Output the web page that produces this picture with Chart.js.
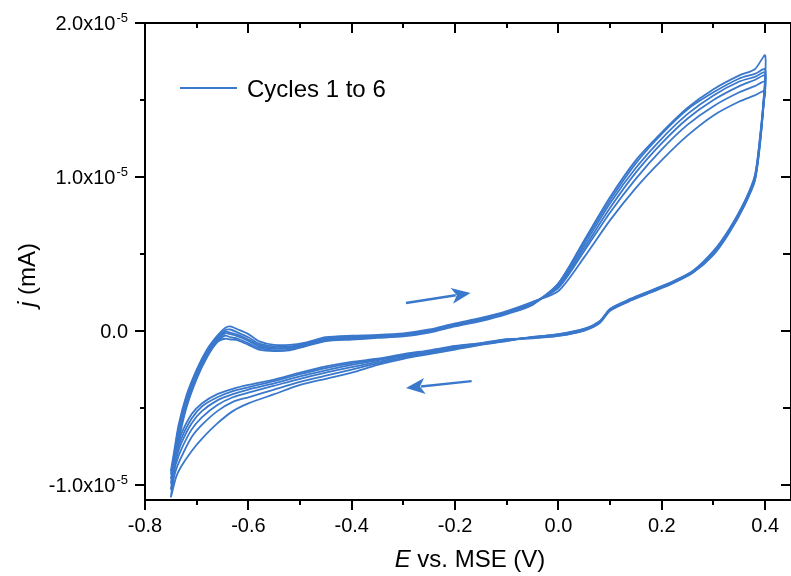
<!DOCTYPE html>
<html>
<head>
<meta charset="utf-8">
<script src="https://cdn.jsdelivr.net/npm/chart.js"></script>
<style>
  html, body { margin: 0; padding: 0; background: #fff; }
</style>
</head>
<body>
<canvas id="cvChart" width="791" height="576"></canvas>
<script>
// potential grid, E vs. MSE (V)
let potentialFwd = [
  -0.75, -0.745, -0.735, -0.72, -0.70, -0.68, -0.66, -0.645, -0.635, -0.62,
  -0.60, -0.58, -0.55, -0.52, -0.49, -0.45, -0.40, -0.35, -0.30, -0.25,
  -0.20, -0.15, -0.10, -0.05, 0.0, 0.05, 0.10, 0.15, 0.20, 0.25,
  0.30, 0.35, 0.38, 0.40
];
let potentialRev = [
  0.398, 0.39, 0.38, 0.36, 0.33, 0.30, 0.26, 0.22, 0.18, 0.14,
  0.10, 0.08, 0.05, 0.0, -0.05, -0.10, -0.15, -0.20, -0.25, -0.30,
  -0.35, -0.40, -0.45, -0.50, -0.55, -0.60, -0.63, -0.66, -0.69, -0.71,
  -0.73, -0.74, -0.75
];

// current density j, read in units of 1e-5 mA
let cycle1Fwd = [
  -1.08, -0.95, -0.72, -0.50, -0.31, -0.17, -0.07, -0.05, -0.055, -0.06,
  -0.09, -0.12, -0.13, -0.125, -0.10, -0.065, -0.055, -0.045, -0.035, -0.01,
  0.03, 0.065, 0.11, 0.17, 0.31, 0.59, 0.87, 1.11, 1.29, 1.45,
  1.57, 1.66, 1.70, 1.79
];
let cycle1Rev = [
  1.55, 1.26, 1.01, 0.84, 0.66, 0.52, 0.39, 0.32, 0.265, 0.21,
  0.145, 0.065, 0.015, -0.02, -0.04, -0.065, -0.09, -0.12, -0.15, -0.18,
  -0.22, -0.27, -0.31, -0.35, -0.41, -0.47, -0.52, -0.60, -0.70, -0.78,
  -0.88, -0.95, -1.08
];
let cycle2Fwd = [
  -1.03, -0.91, -0.69, -0.48, -0.30, -0.16, -0.07, -0.03, -0.04, -0.05,
  -0.08, -0.11, -0.125, -0.12, -0.095, -0.06, -0.05, -0.04, -0.03, -0.005,
  0.035, 0.07, 0.115, 0.175, 0.31, 0.58, 0.85, 1.09, 1.28, 1.44,
  1.55, 1.64, 1.67, 1.70
];
let cycle2Rev = [
  1.54, 1.25, 1.00, 0.835, 0.655, 0.515, 0.388, 0.318, 0.262, 0.207,
  0.142, 0.062, 0.012, -0.022, -0.038, -0.062, -0.087, -0.115, -0.145, -0.172,
  -0.21, -0.25, -0.29, -0.33, -0.38, -0.43, -0.46, -0.52, -0.61, -0.69,
  -0.82, -0.90, -1.03
];
let cycle3Fwd = [
  -0.99, -0.88, -0.67, -0.46, -0.28, -0.15, -0.06, -0.015, -0.02, -0.035,
  -0.065, -0.10, -0.115, -0.11, -0.09, -0.055, -0.045, -0.035, -0.025, 0.0,
  0.04, 0.075, 0.12, 0.18, 0.30, 0.56, 0.83, 1.06, 1.25, 1.41,
  1.53, 1.62, 1.65, 1.68
];
let cycle3Rev = [
  1.53, 1.24, 0.99, 0.83, 0.65, 0.51, 0.385, 0.315, 0.26, 0.205,
  0.14, 0.06, 0.01, -0.025, -0.04, -0.06, -0.085, -0.11, -0.14, -0.165,
  -0.20, -0.235, -0.27, -0.31, -0.355, -0.40, -0.43, -0.48, -0.56, -0.64,
  -0.77, -0.86, -0.99
];
let cycle4Fwd = [
  -0.96, -0.86, -0.65, -0.44, -0.27, -0.14, -0.05, -0.005, -0.01, -0.025,
  -0.055, -0.09, -0.11, -0.105, -0.085, -0.05, -0.04, -0.03, -0.02, 0.0,
  0.04, 0.075, 0.12, 0.18, 0.29, 0.54, 0.80, 1.03, 1.22, 1.38,
  1.50, 1.59, 1.63, 1.66
];
let cycle4Rev = [
  1.52, 1.23, 0.985, 0.825, 0.645, 0.505, 0.382, 0.312, 0.257, 0.202,
  0.137, 0.057, 0.008, -0.027, -0.042, -0.058, -0.082, -0.105, -0.135, -0.16,
  -0.19, -0.22, -0.255, -0.295, -0.34, -0.38, -0.41, -0.45, -0.52, -0.60,
  -0.73, -0.83, -0.96
];
let cycle5Fwd = [
  -0.93, -0.83, -0.63, -0.43, -0.26, -0.13, -0.04, 0.005, 0.01, -0.01,
  -0.04, -0.08, -0.10, -0.10, -0.08, -0.045, -0.035, -0.03, -0.02, 0.005,
  0.045, 0.08, 0.125, 0.185, 0.28, 0.52, 0.77, 0.99, 1.18, 1.34,
  1.46, 1.55, 1.59, 1.62
];
let cycle5Rev = [
  1.51, 1.22, 0.98, 0.82, 0.64, 0.50, 0.38, 0.31, 0.255, 0.20,
  0.135, 0.055, 0.005, -0.03, -0.045, -0.055, -0.08, -0.10, -0.13, -0.155,
  -0.185, -0.21, -0.24, -0.28, -0.325, -0.365, -0.39, -0.43, -0.49, -0.57,
  -0.70, -0.80, -0.93
];
let cycle6Fwd = [
  -0.91, -0.81, -0.61, -0.42, -0.25, -0.12, -0.03, 0.02, 0.03, 0.01,
  -0.02, -0.065, -0.09, -0.09, -0.075, -0.04, -0.03, -0.025, -0.015, 0.01,
  0.05, 0.085, 0.13, 0.19, 0.26, 0.48, 0.72, 0.93, 1.11, 1.27,
  1.40, 1.49, 1.53, 1.56
];
let cycle6Rev = [
  1.50, 1.21, 0.975, 0.815, 0.635, 0.495, 0.378, 0.308, 0.252, 0.198,
  0.132, 0.052, 0.003, -0.032, -0.047, -0.052, -0.078, -0.097, -0.125, -0.15,
  -0.18, -0.20, -0.23, -0.27, -0.315, -0.35, -0.375, -0.41, -0.47, -0.54,
  -0.67, -0.78, -0.91
];

// axes
let xTicks = [-0.8, -0.6, -0.4, -0.2, 0.0, 0.2, 0.4];
let xTickLabels = ["-0.8", "-0.6", "-0.4", "-0.2", "0.0", "0.2", "0.4"];
let xMinorTicks = [-0.7, -0.5, -0.3, -0.1, 0.1, 0.3];
let yTicks = [-1.0e-5, 0, 1.0e-5, 2.0e-5];
let yTickLabels = ["-1.0x10", "0.0", "1.0x10", "2.0x10"];
let yTickExponents = ["-5", "", "-5", "-5"];
let yMinorTicks = [-0.5e-5, 0.5e-5, 1.5e-5];

// sweep direction arrows [E, j] tail -> tip
let arrowForward = [[-0.295, 0.182e-5], [-0.170, 0.247e-5]];
let arrowReverse = [[-0.168, -0.325e-5], [-0.295, -0.370e-5]];

let legendLabel = "Cycles 1 to 6";
let lineColor = "#3a78cc";
let fontFamily = "'Liberation Sans', Arial, sans-serif";

let cycles = [
  [cycle1Fwd, cycle1Rev], [cycle2Fwd, cycle2Rev], [cycle3Fwd, cycle3Rev],
  [cycle4Fwd, cycle4Rev], [cycle5Fwd, cycle5Rev], [cycle6Fwd, cycle6Rev]
];

let datasets = cycles.map((c, k) => {
  let pts = [];
  potentialFwd.forEach((e, i) => pts.push({ x: e, y: c[0][i] * 1e-5 }));
  potentialRev.forEach((e, i) => pts.push({ x: e, y: c[1][i] * 1e-5 }));
  return {
    label: "Cycle " + (k + 1),
    data: pts,
    borderColor: lineColor,
    borderWidth: 1.8,
    pointRadius: 0,
    tension: 0.25,
    fill: false
  };
});

function drawArrow(ctx, xs, ys, arr) {
  let x0 = xs.getPixelForValue(arr[0][0]), y0 = ys.getPixelForValue(arr[0][1]);
  let x1 = xs.getPixelForValue(arr[1][0]), y1 = ys.getPixelForValue(arr[1][1]);
  let ang = Math.atan2(y1 - y0, x1 - x0);
  let len = 19, half = 8;
  ctx.save();
  ctx.translate(x1, y1);
  ctx.rotate(ang);
  let full = Math.hypot(x1 - x0, y1 - y0);
  ctx.strokeStyle = lineColor;
  ctx.lineWidth = 2.4;
  ctx.beginPath();
  ctx.moveTo(-full, 0);
  ctx.lineTo(-len + 4, 0);
  ctx.stroke();
  ctx.fillStyle = lineColor;
  ctx.beginPath();
  ctx.moveTo(0, 0);
  ctx.lineTo(-len, -half);
  ctx.lineTo(-len + 5, 0);
  ctx.lineTo(-len, half);
  ctx.closePath();
  ctx.fill();
  ctx.restore();
}

let framePlugin = {
  id: "frame",
  afterDraw(chart) {
    let ctx = chart.ctx;
    let a = chart.chartArea;
    let xs = chart.scales.x, ys = chart.scales.y;
    ctx.save();

    drawArrow(ctx, xs, ys, arrowForward);
    drawArrow(ctx, xs, ys, arrowReverse);

    // box
    ctx.strokeStyle = "#000";
    ctx.lineWidth = 2;
    ctx.strokeRect(a.left, a.top, a.right - a.left, a.bottom - a.top);

    ctx.beginPath();
    xTicks.forEach(v => {
      let px = Math.round(xs.getPixelForValue(v));
      ctx.moveTo(px, a.bottom); ctx.lineTo(px, a.bottom + 10);
      ctx.moveTo(px, a.top); ctx.lineTo(px, a.top + 10);
    });
    xMinorTicks.forEach(v => {
      let px = Math.round(xs.getPixelForValue(v));
      ctx.moveTo(px, a.bottom); ctx.lineTo(px, a.bottom + 5);
      ctx.moveTo(px, a.top); ctx.lineTo(px, a.top + 5);
    });
    yTicks.forEach(v => {
      let py = Math.round(ys.getPixelForValue(v));
      ctx.moveTo(a.left, py); ctx.lineTo(a.left - 10, py);
      ctx.moveTo(a.right, py); ctx.lineTo(a.right - 10, py);
    });
    yMinorTicks.forEach(v => {
      let py = Math.round(ys.getPixelForValue(v));
      ctx.moveTo(a.left, py); ctx.lineTo(a.left - 5, py);
      ctx.moveTo(a.right, py); ctx.lineTo(a.right - 8, py);
    });
    ctx.stroke();

    // tick labels
    ctx.fillStyle = "#000";
    ctx.font = "20px " + fontFamily;
    ctx.textAlign = "center";
    ctx.textBaseline = "alphabetic";
    xTicks.forEach((v, i) => {
      ctx.fillText(xTickLabels[i], xs.getPixelForValue(v), a.bottom + 32);
    });
    ctx.textAlign = "left";
    let rightEdge = 128;
    yTicks.forEach((v, i) => {
      let py = ys.getPixelForValue(v);
      ctx.font = "13px " + fontFamily;
      let ew = ctx.measureText(yTickExponents[i]).width;
      ctx.fillText(yTickExponents[i], rightEdge - ew, py - 1);
      ctx.font = "20px " + fontFamily;
      let mw = ctx.measureText(yTickLabels[i]).width;
      let gap = ew > 0 ? 1 : 0;
      ctx.fillText(yTickLabels[i], rightEdge - ew - gap - mw, py + 7);
    });

    // axis titles
    ctx.font = "italic 24px " + fontFamily;
    let wE = ctx.measureText("E").width;
    ctx.font = "24px " + fontFamily;
    let wRest = ctx.measureText(" vs. MSE (V)").width;
    let tx = 470 - (wE + wRest) / 2;
    ctx.font = "italic 24px " + fontFamily;
    ctx.fillText("E", tx, 567);
    ctx.font = "24px " + fontFamily;
    ctx.fillText(" vs. MSE (V)", tx + wE, 567);

    ctx.save();
    ctx.translate(35, 275);
    ctx.rotate(-Math.PI / 2);
    ctx.font = "italic 24px " + fontFamily;
    let wj = ctx.measureText("j").width;
    ctx.font = "24px " + fontFamily;
    let wmA = ctx.measureText(" (mA)").width;
    let ty = -(wj + wmA) / 2;
    ctx.font = "italic 24px " + fontFamily;
    ctx.fillText("j", ty, 0);
    ctx.font = "24px " + fontFamily;
    ctx.fillText(" (mA)", ty + wj, 0);
    ctx.restore();

    // legend
    ctx.strokeStyle = lineColor;
    ctx.lineWidth = 2;
    ctx.beginPath();
    ctx.moveTo(180, 88); ctx.lineTo(237, 88);
    ctx.stroke();
    ctx.font = "24px " + fontFamily;
    ctx.fillText(legendLabel, 247, 97);

    ctx.restore();
  }
};

let cvCtx = document.getElementById("cvChart").getContext("2d");
new Chart(cvCtx, {
  type: "line",
  data: { datasets: datasets },
  options: {
    responsive: false,
    animation: false,
    devicePixelRatio: 1,
    layout: { padding: { left: 145, top: 23, right: -3, bottom: 76 } },
    plugins: { legend: { display: false }, tooltip: { enabled: false } },
    scales: {
      x: { type: "linear", min: -0.8, max: 0.45, display: false },
      y: { type: "linear", min: -1.097e-5, max: 2.0e-5, display: false }
    }
  },
  plugins: [framePlugin]
});
</script>
</body>
</html>
